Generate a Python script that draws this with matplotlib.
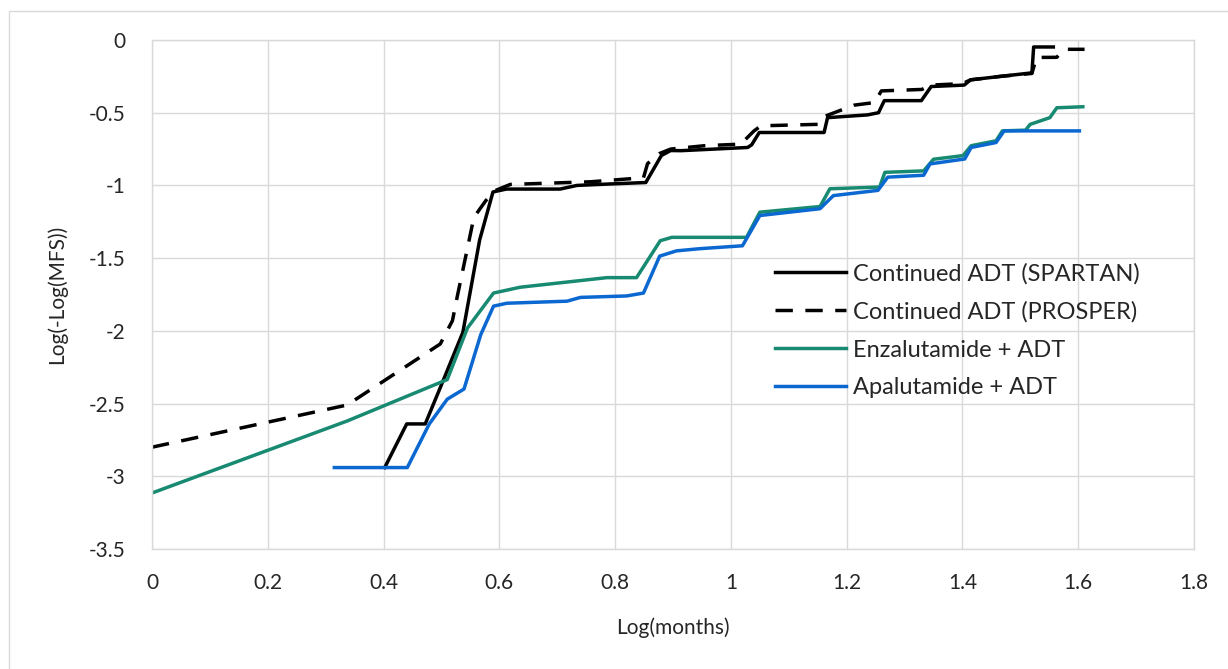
import matplotlib
matplotlib.use("Agg")
import matplotlib.pyplot as plt
from matplotlib.patches import Rectangle

plt.rcParams["font.family"] = ["Lato", "DejaVu Sans"]

# Continued ADT (SPARTAN)
spartan_x = [0.402, 0.44, 0.472, 0.498, 0.537, 0.566, 0.589, 0.612, 0.705, 0.734,
             0.791, 0.853, 0.88, 0.896, 0.914, 1.029, 1.036, 1.049, 1.161, 1.167,
             1.236, 1.255, 1.265, 1.329, 1.346, 1.403, 1.414, 1.466, 1.52, 1.523, 1.557]
spartan_y = [-2.94, -2.64, -2.64, -2.39, -2.01, -1.375, -1.045, -1.025, -1.025, -1.0,
             -0.99, -0.98, -0.794, -0.76, -0.761, -0.739, -0.72, -0.636, -0.636, -0.534,
             -0.515, -0.50, -0.417, -0.417, -0.32, -0.31, -0.274, -0.25, -0.226, -0.048, -0.048]

# Continued ADT (PROSPER)
prosper_x = [0.0, 0.337, 0.498, 0.519, 0.527, 0.545, 0.556, 0.576, 0.59, 0.619,
             0.757, 0.849, 0.856, 0.877, 0.896, 0.954, 1.017, 1.04, 1.052, 1.15,
             1.156, 1.213, 1.248, 1.26, 1.33, 1.346, 1.40, 1.414, 1.466, 1.52,
             1.528, 1.563, 1.575, 1.611]
prosper_y = [-2.8, -2.51, -2.09, -1.93, -1.77, -1.43, -1.22, -1.108, -1.04, -0.993,
             -0.975, -0.947, -0.85, -0.78, -0.75, -0.727, -0.716, -0.625, -0.59, -0.58,
             -0.534, -0.448, -0.43, -0.35, -0.34, -0.31, -0.30, -0.274, -0.25, -0.23,
             -0.12, -0.119, -0.064, -0.064]

# Enzalutamide + ADT
enza_x = [0.0, 0.337, 0.51, 0.545, 0.59, 0.636, 0.786, 0.837, 0.878, 0.898,
          1.027, 1.05, 1.154, 1.171, 1.257, 1.266, 1.333, 1.35, 1.401, 1.415,
          1.458, 1.469, 1.509, 1.517, 1.551, 1.563, 1.608]
enza_y = [-3.115, -2.62, -2.335, -1.98, -1.74, -1.70, -1.634, -1.634, -1.38, -1.357,
          -1.357, -1.184, -1.145, -1.023, -1.011, -0.91, -0.90, -0.82, -0.795, -0.727,
          -0.693, -0.625, -0.62, -0.58, -0.534, -0.466, -0.459]

# Apalutamide + ADT
apa_x = [0.315, 0.441, 0.479, 0.51, 0.539, 0.568, 0.59, 0.613, 0.717, 0.74,
         0.82, 0.849, 0.877, 0.906, 0.946, 1.02, 1.05, 1.154, 1.177, 1.254,
         1.271, 1.333, 1.344, 1.404, 1.415, 1.458, 1.472, 1.602]
apa_y = [-2.94, -2.94, -2.64, -2.47, -2.40, -2.025, -1.83, -1.81, -1.796, -1.77,
         -1.76, -1.74, -1.486, -1.45, -1.435, -1.415, -1.207, -1.16, -1.07, -1.034,
         -0.943, -0.93, -0.852, -0.818, -0.739, -0.705, -0.625, -0.625]

x_ticks = [0, 0.2, 0.4, 0.6, 0.8, 1.0, 1.2, 1.4, 1.6, 1.8]
x_labels = ["0", "0.2", "0.4", "0.6", "0.8", "1", "1.2", "1.4", "1.6", "1.8"]
y_ticks = [0, -0.5, -1, -1.5, -2, -2.5, -3, -3.5]
y_labels = ["0", "-0.5", "-1", "-1.5", "-2", "-2.5", "-3", "-3.5"]

grid_col = "#d9d9d9"
text_col = "#262626"

fig = plt.figure(figsize=(12.28, 6.69), dpi=100)
fig.patches.append(Rectangle((9 / 1228, -0.05), 1.2, 1.05 - 11 / 669,
                             transform=fig.transFigure, fill=False,
                             edgecolor=grid_col, linewidth=1.0))
ax = fig.add_axes([152 / 1228, 1 - 549 / 669, 1042 / 1228, 509 / 669])

lw = 2.5
ax.plot(spartan_x, spartan_y, color="black", lw=lw, label="Continued ADT (SPARTAN)")
ax.plot(prosper_x, prosper_y, color="black", lw=lw, dashes=(5.0, 3.6),
        label="Continued ADT (PROSPER)")
ax.plot(enza_x, enza_y, color="#178a71", lw=lw, label="Enzalutamide + ADT")
ax.plot(apa_x, apa_y, color="#0b68d1", lw=lw, label="Apalutamide + ADT")

ax.set_xlim(0, 1.8)
ax.set_ylim(-3.5, 0)
ax.set_xticks(x_ticks)
ax.set_xticklabels(x_labels)
ax.set_yticks(y_ticks)
ax.set_yticklabels(y_labels)
ax.tick_params(length=0, labelsize=15, colors=text_col)
ax.tick_params(axis="y", pad=19)
ax.tick_params(axis="x", pad=17)
ax.grid(True, color=grid_col, linewidth=1.0)
ax.set_axisbelow(True)
for s in ax.spines.values():
    s.set_color(grid_col)
    s.set_linewidth(1.0)

ax.set_xlabel("Log(months)", fontsize=15, color=text_col, labelpad=18)
ax.set_ylabel("Log(-Log(MFS))", fontsize=15, color=text_col, labelpad=16)

leg = ax.legend(loc="upper left", bbox_to_anchor=(0.598, 0.562), frameon=False,
                fontsize=17, handlelength=3.0, handletextpad=0.3,
                labelspacing=0.71, borderpad=0, borderaxespad=0)
for t in leg.get_texts():
    t.set_color(text_col)

fig.savefig("out.png", dpi=100)
